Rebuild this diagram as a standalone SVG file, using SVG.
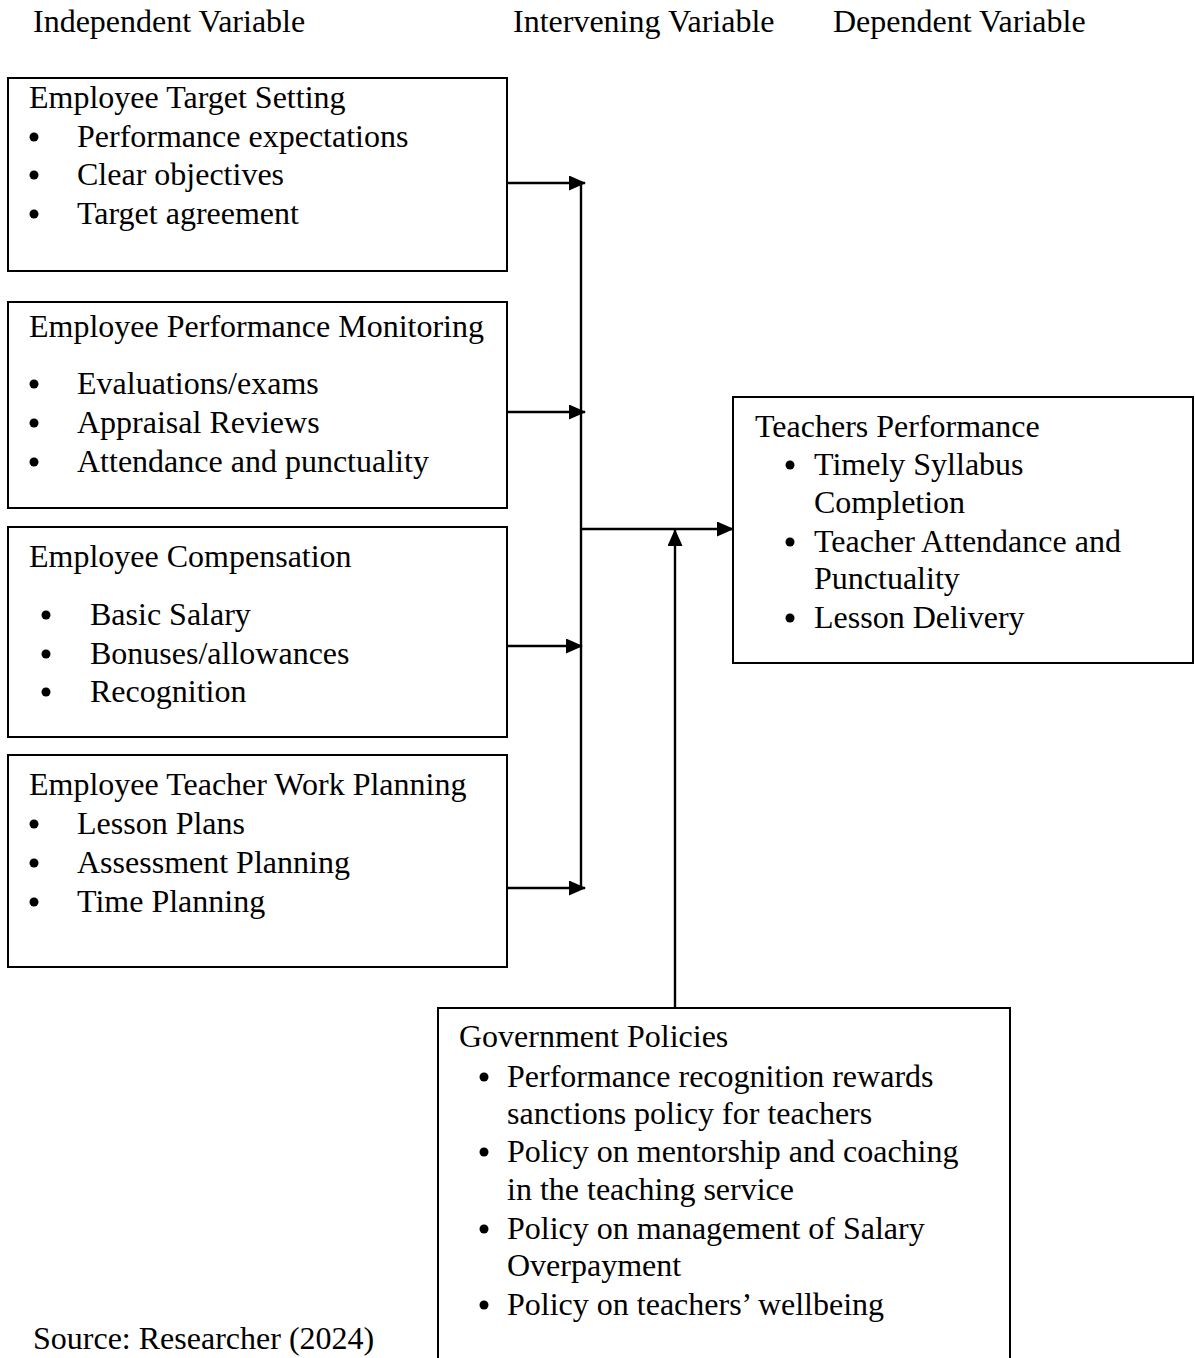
<svg xmlns="http://www.w3.org/2000/svg" width="1195" height="1358" viewBox="0 0 1195 1358">
<style>
text{font-family:"Liberation Serif","Times New Roman",serif;font-size:32px;fill:#000}
.box{fill:#fff;stroke:#000;stroke-width:2}
.ln{stroke:#000;stroke-width:2.4;fill:none}
.b{fill:#000}
</style>
<defs>
<marker id="ah" markerWidth="17" markerHeight="15" refX="16" refY="7.5" orient="auto" markerUnits="userSpaceOnUse">
<path d="M0,0 L17,7.5 L0,15 Z" fill="#000"/>
</marker>
</defs>
<rect width="1195" height="1358" fill="#fff"/>
<g id="headers">
<text x="33" y="32">Independent Variable</text>
<text x="513" y="32">Intervening Variable</text>
<text x="833" y="32">Dependent Variable</text>
</g>
<g id="connectors">
<line class="ln" x1="581" y1="183" x2="581" y2="888"/>
<line class="ln" x1="507" y1="183" x2="585" y2="183" marker-end="url(#ah)"/>
<line class="ln" x1="507" y1="412" x2="585" y2="412" marker-end="url(#ah)"/>
<line class="ln" x1="502" y1="646" x2="582" y2="646" marker-end="url(#ah)"/>
<line class="ln" x1="507" y1="888" x2="585" y2="888" marker-end="url(#ah)"/>
<line class="ln" x1="581" y1="529" x2="733" y2="529" marker-end="url(#ah)"/>
<line class="ln" x1="675" y1="1008" x2="675" y2="530" marker-end="url(#ah)"/>
</g>
<g id="target-setting">
<rect class="box" x="8" y="78" width="499" height="193"/>
<text x="29" y="108">Employee Target Setting</text>
<circle class="b" cx="34" cy="137" r="4.5"/><text x="77" y="147">Performance expectations</text>
<circle class="b" cx="34" cy="175" r="4.5"/><text x="77" y="185">Clear objectives</text>
<circle class="b" cx="34" cy="214" r="4.5"/><text x="77" y="224">Target agreement</text>
</g>
<g id="performance-monitoring">
<rect class="box" x="8" y="302" width="499" height="206"/>
<text x="29" y="337">Employee Performance Monitoring</text>
<circle class="b" cx="34" cy="384" r="4.5"/><text x="77" y="394">Evaluations/exams</text>
<circle class="b" cx="34" cy="423" r="4.5"/><text x="77" y="433">Appraisal Reviews</text>
<circle class="b" cx="34" cy="462" r="4.5"/><text x="77" y="472">Attendance and punctuality</text>
</g>
<g id="compensation">
<rect class="box" x="8" y="527" width="499" height="210"/>
<text x="29" y="567">Employee Compensation</text>
<circle class="b" cx="46" cy="615" r="4.5"/><text x="90" y="625">Basic Salary</text>
<circle class="b" cx="46" cy="654" r="4.5"/><text x="90" y="664">Bonuses/allowances</text>
<circle class="b" cx="46" cy="692" r="4.5"/><text x="90" y="702">Recognition</text>
</g>
<g id="work-planning">
<rect class="box" x="8" y="755" width="499" height="212"/>
<text x="29" y="795">Employee Teacher Work Planning</text>
<circle class="b" cx="34" cy="824" r="4.5"/><text x="77" y="834">Lesson Plans</text>
<circle class="b" cx="34" cy="863" r="4.5"/><text x="77" y="873">Assessment Planning</text>
<circle class="b" cx="34" cy="902" r="4.5"/><text x="77" y="912">Time Planning</text>
</g>
<g id="teachers-performance">
<rect class="box" x="733" y="397" width="460" height="266"/>
<text x="755" y="437">Teachers Performance</text>
<circle class="b" cx="790" cy="465" r="4.5"/><text x="814" y="475">Timely Syllabus</text>
<text x="814" y="513">Completion</text>
<circle class="b" cx="790" cy="542" r="4.5"/><text x="814" y="552">Teacher Attendance and</text>
<text x="814" y="589">Punctuality</text>
<circle class="b" cx="790" cy="618" r="4.5"/><text x="814" y="628">Lesson Delivery</text>
</g>
<g id="government-policies">
<rect class="box" x="438" y="1008" width="572" height="380"/>
<text x="459" y="1047">Government Policies</text>
<circle class="b" cx="484" cy="1077" r="4.5"/><text x="507" y="1087">Performance recognition rewards</text>
<text x="507" y="1124">sanctions policy for teachers</text>
<circle class="b" cx="484" cy="1152" r="4.5"/><text x="507" y="1162">Policy on mentorship and coaching</text>
<text x="507" y="1200">in the teaching service</text>
<circle class="b" cx="484" cy="1229" r="4.5"/><text x="507" y="1239">Policy on management of Salary</text>
<text x="507" y="1276">Overpayment</text>
<circle class="b" cx="484" cy="1305" r="4.5"/><text x="507" y="1315">Policy on teachers’ wellbeing</text>
</g>
<g id="source">
<text x="33" y="1349">Source: Researcher (2024)</text>
</g>
</svg>
